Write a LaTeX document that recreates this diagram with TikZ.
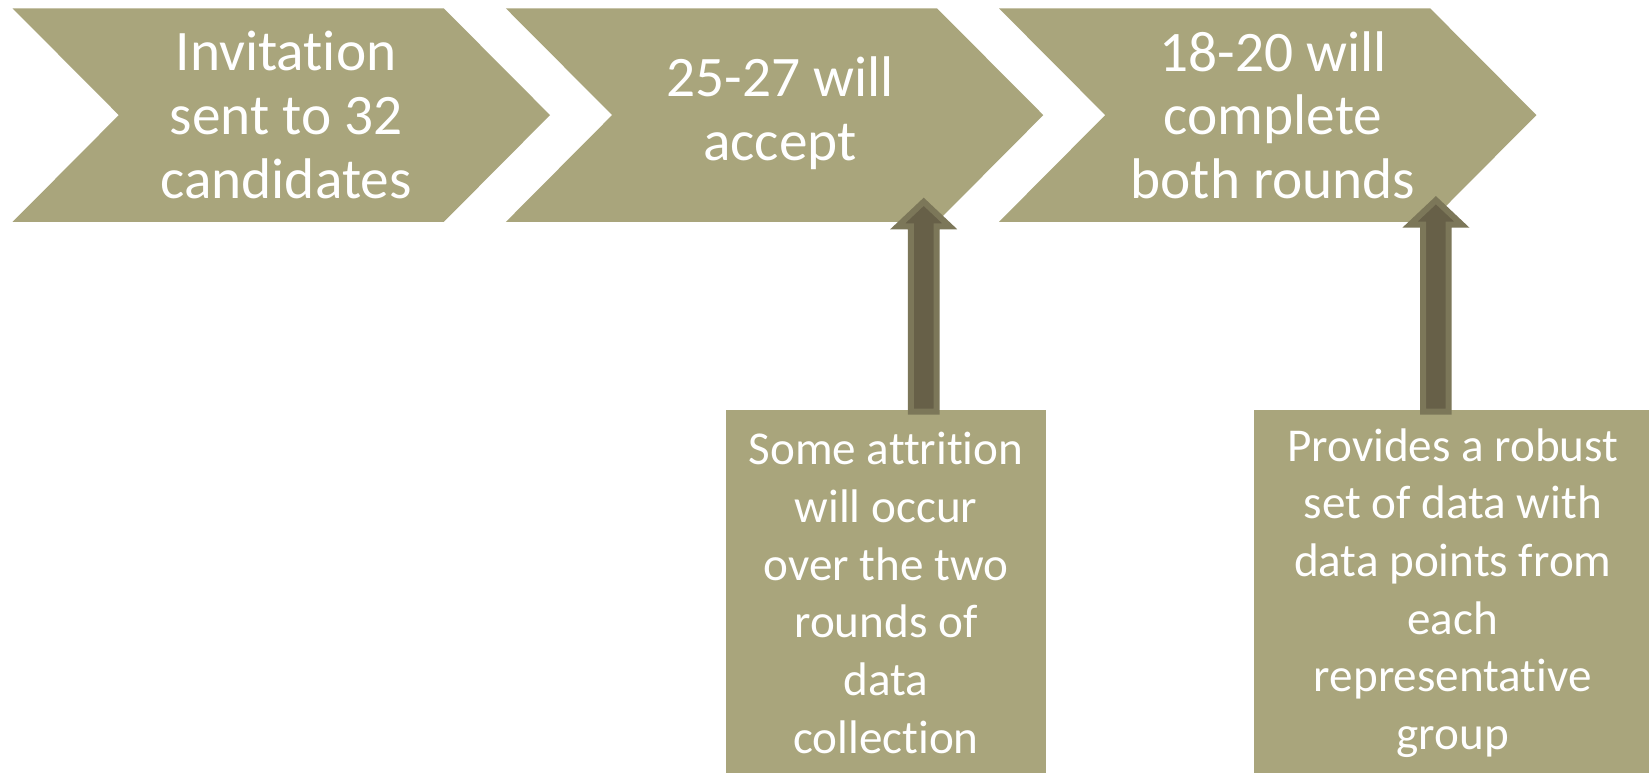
\documentclass[tikz,border=0pt]{standalone}
\usepackage{fontspec}
\setmainfont{Carlito}[Ligatures=NoCommon]
\usetikzlibrary{calc}
\definecolor{khaki}{RGB}{169,165,124}
\definecolor{arrowdark}{RGB}{103,96,72}
\definecolor{arrowedge}{RGB}{124,119,89}
% block arrow pointing up, from #1 (foot) to #2 (tip)
\newcommand{\blockup}[2]{%
  \draw[blockarr] ($(#1)+(-12.8,-2)$) -- ($(#2)+(-12.8,-29)$) -- ($(#2)+(-26,-29)$)
    -- ($(#2)+(0,-4.5)$) -- ($(#2)+(26,-29)$) -- ($(#2)+(12.8,-29)$)
    -- ($(#1)+(12.8,-2)$) -- cycle;}
\begin{document}
\begin{tikzpicture}[x=0.01cm, y=0.01cm,
    chev/.style={fill=khaki},
    chevtext/.style={text=white, align=center, font=\fontsize{16.3}{18.1}\selectfont},
    note/.style={fill=khaki, text=white, align=center, inner sep=0pt,
      minimum height=3.65cm, font=\fontsize{13.4}{16.4}\selectfont},
    blockarr/.style={fill=arrowdark, draw=arrowedge, line width=1.7pt}]
  \useasboundingbox (0,0) rectangle (1649,773);
  \fill[white] (0,0) rectangle (1649,773);

  % chevrons
  \fill[chev] (12.6,764.6) -- (443.8,764.6) -- (550,657.9) -- (443.8,551.1) -- (12.6,551.1) -- (118.8,657.9) -- cycle;
  \fill[chev] (505.9,764.6) -- (937.1,764.6) -- (1043.3,657.9) -- (937.1,551.1) -- (505.9,551.1) -- (612.1,657.9) -- cycle;
  \fill[chev] (999,764.6) -- (1430.2,764.6) -- (1536.4,657.9) -- (1430.2,551.1) -- (999,551.1) -- (1105.2,657.9) -- cycle;
  \node[chevtext] (c1) at (286,658) {Invitation\\sent to 32\\candidates};
  \node[chevtext] (c2) at (780,660) {25-27 will\\accept};
  \node[chevtext] (c3) at (1273,658) {18-20 will\\complete\\both rounds};

  % notes below
  \node[note, minimum width=3.207cm] (b1) at (886,180) {Some attrition\\will occur\\over the two\\rounds of\\data\\collection};
  \node[note, minimum width=3.984cm] (b2) at (1452.8,180) {Provides a robust\\set of data with\\data points from\\each\\representative\\group};

  \coordinate (t1) at (923.7,575.7);
  \coordinate (t2) at (1435.9,577.3);
  \coordinate (s1) at (t1 |- b1.north);
  \coordinate (s2) at (t2 |- b2.north);
  \blockup{s1}{t1}
  \blockup{s2}{t2}
\end{tikzpicture}
\end{document}
